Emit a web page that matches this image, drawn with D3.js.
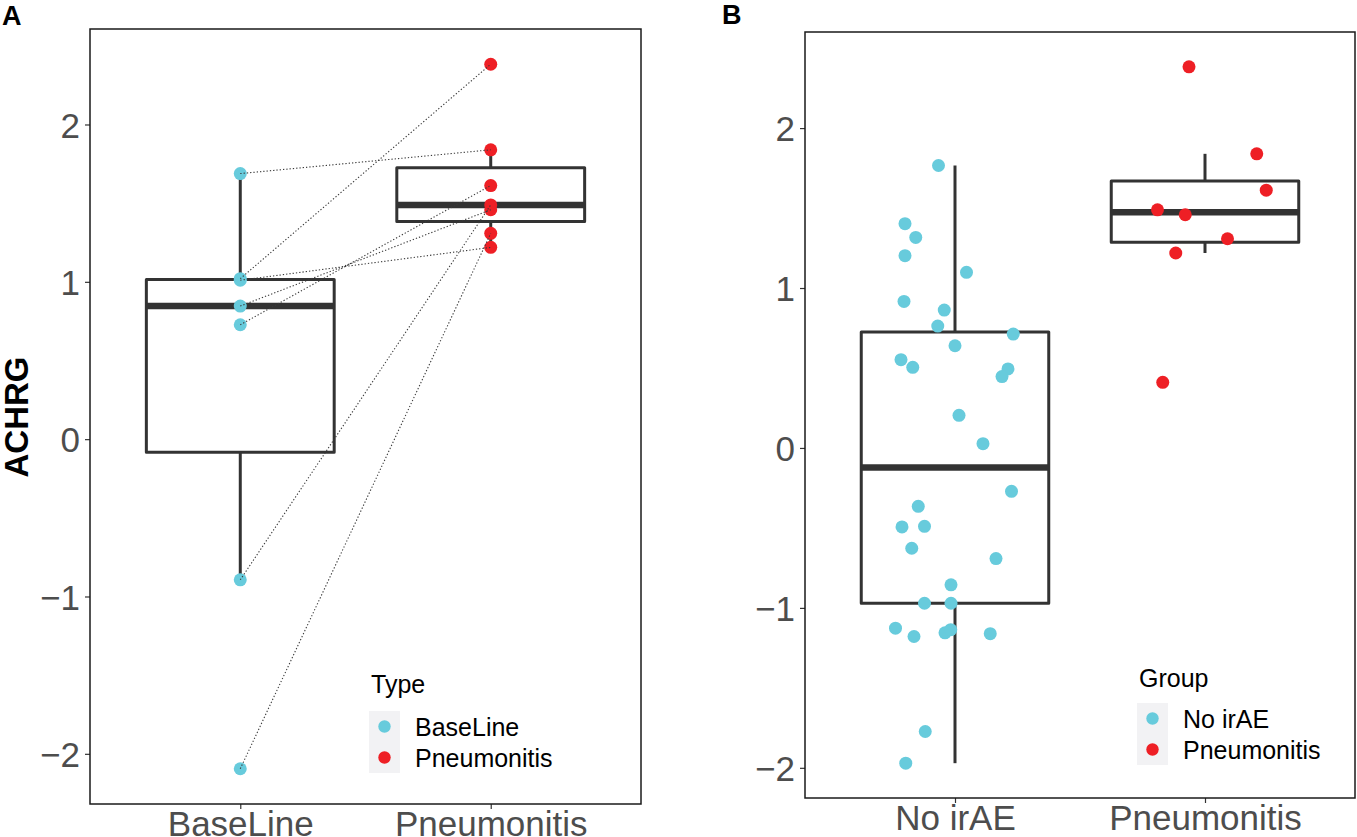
<!DOCTYPE html>
<html>
<head>
<meta charset="utf-8">
<script src="https://cdn.jsdelivr.net/npm/d3@7"></script>
<style>
  html, body { margin: 0; padding: 0; background: #fff; }
  svg { display: block; font-family: "Liberation Sans", Arial, Helvetica, sans-serif; }
</style>
</head>
<body>
<svg id="chart" width="1357" height="837"></svg>
<script>
// ---------------- data ----------------
const categoriesA = ["BaseLine", "Pneumonitis"];
// paired samples (same index = same patient)
const baselineValuesA    = [1.688, 1.02, 1.01, 0.846, 0.727, -0.894, -2.095];
const pneumonitisValuesA = [1.839, 2.383, 1.219, 1.458, 1.612, 1.489, 1.308];

const categoriesB = ["No irAE", "Pneumonitis"];
const noIrAEValuesB = [1.766, 1.402, 1.316, 1.202, 1.098, 0.916, 0.862, 0.762, 0.712, 0.639,
                       0.552, 0.504, 0.494, 0.446, 0.204, 0.027, -0.271, -0.365, -0.494, -0.490,
                       -0.627, -0.692, -0.856, -0.971, -0.971, -1.127, -1.179, -1.156, -1.136, -1.161,
                       -1.773, -1.971];
const noIrAEJitterB = [-0.066, -0.200, -0.157, -0.200, 0.046, -0.204, -0.043, -0.069, 0.233, 0.000,
                       -0.216, -0.169, 0.212, 0.188, 0.016, 0.112, 0.226, -0.147, -0.212, -0.122,
                       -0.173, 0.164, -0.016, -0.122, -0.016, -0.238, -0.164, -0.040, -0.017, 0.141,
                       -0.119, -0.197];
const pneumonitisValuesB = [2.383, 1.839, 1.612, 1.489, 1.458, 1.308, 1.219, 0.410];
const pneumonitisJitterB = [-0.064, 0.207, 0.245, -0.190, -0.079, 0.090, -0.117, -0.169];

const yTickValues = [-2, -1, 0, 1, 2];
const colorBaseLine = "#67CBDC";
const colorPneumonitis = "#EE1F25";

// ---------------- helpers ----------------
const svg = d3.select("#chart");
const INK = "#333333";

function boxStats(values) {
  const s = values.slice().sort(d3.ascending);
  const q1 = d3.quantile(s, 0.25), med = d3.quantile(s, 0.5), q3 = d3.quantile(s, 0.75);
  const iqr = q3 - q1;
  const lo = d3.min(s.filter(v => v >= q1 - 1.5 * iqr));
  const hi = d3.max(s.filter(v => v <= q3 + 1.5 * iqr));
  return { q1, med, q3, lo, hi };
}

function expandedDomain(all) {
  const [mn, mx] = d3.extent(all);
  const pad = (mx - mn) * 0.05;
  return [mn - pad, mx + pad];
}

function makePanel(frame, cats, allValues) {
  const x = d3.scalePoint().domain(cats).range([frame.left, frame.right]).padding(0.6);
  const y = d3.scaleLinear().domain(expandedDomain(allValues)).range([frame.bottom, frame.top]);
  return { x, y };
}

function drawBox(g, x, y, cat, values) {
  const st = boxStats(values);
  const cx = x(cat);
  const hw = x.step() * 0.75 / 2;
  g.append("line").attr("x1", cx).attr("x2", cx).attr("y1", y(st.q3)).attr("y2", y(st.hi))
    .attr("stroke", INK).attr("stroke-width", 3);
  g.append("line").attr("x1", cx).attr("x2", cx).attr("y1", y(st.q1)).attr("y2", y(st.lo))
    .attr("stroke", INK).attr("stroke-width", 3);
  g.append("rect").attr("x", cx - hw).attr("y", y(st.q3))
    .attr("width", 2 * hw).attr("height", y(st.q1) - y(st.q3))
    .attr("fill", "#fff").attr("stroke", INK).attr("stroke-width", 3).attr("stroke-linejoin", "round");
  g.append("line").attr("x1", cx - hw).attr("x2", cx + hw).attr("y1", y(st.med)).attr("y2", y(st.med))
    .attr("stroke", INK).attr("stroke-width", 6.5);
}

function drawAxes(g, frame, x, y) {
  const ya = g.append("g").attr("transform", `translate(${frame.left},0)`)
    .call(d3.axisLeft(y).tickValues(yTickValues).tickSize(5).tickPadding(5)
      .tickFormat(d => d < 0 ? "\u2212" + Math.abs(d) : d));
  const xa = g.append("g").attr("transform", `translate(0,${frame.bottom})`)
    .call(d3.axisBottom(x).tickSize(5).tickPadding(3));
  [ya, xa].forEach(a => {
    a.select(".domain").remove();
    a.selectAll(".tick line").attr("stroke", INK).attr("stroke-width", 1.2);
    a.selectAll(".tick text").attr("fill", "#4D4D4D").style("font-size", "35px")
      .style("font-family", "'Liberation Sans', Arial, sans-serif");
  });
  ya.selectAll(".tick text").attr("dy", "0.36em");
  xa.selectAll(".tick text").attr("dy", "0.69em");
}

function drawFrame(g, frame) {
  g.append("rect").attr("x", frame.left).attr("y", frame.top)
    .attr("width", frame.right - frame.left).attr("height", frame.bottom - frame.top)
    .attr("fill", "none").attr("stroke", "#1a1a1a").attr("stroke-width", 1.5);
}

function drawLegend(g, opt) {
  g.append("text").attr("x", opt.x + 2).attr("y", opt.titleY).text(opt.title)
    .style("font-size", "25px").attr("fill", "#000");
  g.append("rect").attr("x", opt.x).attr("y", opt.keyTop).attr("width", 31).attr("height", opt.keyH * opt.items.length)
    .attr("fill", "#F2F2F4");
  opt.items.forEach((it, i) => {
    const cy = opt.keyTop + opt.keyH * (i + 0.5);
    g.append("circle").attr("cx", opt.x + 15.5).attr("cy", cy).attr("r", 6.2).attr("fill", it.color);
    g.append("text").attr("x", opt.x + 46).attr("y", cy + 9).text(it.label)
      .style("font-size", "25px").attr("fill", "#000");
  });
}

// ---------------- panel A ----------------
const frameA = { left: 90, right: 641, top: 29, bottom: 804 };
const gA = svg.append("g");
const A = makePanel(frameA, categoriesA, baselineValuesA.concat(pneumonitisValuesA));
drawBox(gA, A.x, A.y, categoriesA[0], baselineValuesA);
drawBox(gA, A.x, A.y, categoriesA[1], pneumonitisValuesA);
gA.selectAll("circle.base").data(baselineValuesA).join("circle")
  .attr("cx", A.x(categoriesA[0])).attr("cy", d => A.y(d)).attr("r", 6.5).attr("fill", colorBaseLine);
gA.selectAll("circle.pn").data(pneumonitisValuesA).join("circle")
  .attr("cx", A.x(categoriesA[1])).attr("cy", d => A.y(d)).attr("r", 6.5).attr("fill", colorPneumonitis);
gA.selectAll("line.pair").data(d3.zip(baselineValuesA, pneumonitisValuesA)).join("line")
  .attr("x1", A.x(categoriesA[0])).attr("x2", A.x(categoriesA[1]))
  .attr("y1", d => A.y(d[0])).attr("y2", d => A.y(d[1]))
  .attr("stroke", "#3a3a3a").attr("stroke-width", 1.1).attr("stroke-dasharray", "1.3 2");
drawAxes(gA, frameA, A.x, A.y);
drawFrame(gA, frameA);
drawLegend(gA, { x: 369, titleY: 693, title: "Type", keyTop: 711, keyH: 31,
  items: [{ label: "BaseLine", color: colorBaseLine }, { label: "Pneumonitis", color: colorPneumonitis }] });
gA.append("text").attr("transform", "translate(28,417) rotate(-90)").attr("text-anchor", "middle")
  .text("ACHRG").style("font-size", "33px").style("font-weight", "bold").attr("fill", "#000");
svg.append("text").attr("x", 2).attr("y", 25).text("A").style("font-size", "27px").style("font-weight", "bold");

// ---------------- panel B ----------------
const frameB = { left: 805, right: 1355, top: 32, bottom: 798 };
const gB = svg.append("g");
const B = makePanel(frameB, categoriesB, noIrAEValuesB.concat(pneumonitisValuesB));
drawBox(gB, B.x, B.y, categoriesB[0], noIrAEValuesB);
drawBox(gB, B.x, B.y, categoriesB[1], pneumonitisValuesB);
gB.selectAll("circle.no").data(noIrAEValuesB).join("circle")
  .attr("cx", (d, i) => B.x(categoriesB[0]) + noIrAEJitterB[i] * B.x.step())
  .attr("cy", d => B.y(d)).attr("r", 6.5).attr("fill", colorBaseLine);
gB.selectAll("circle.pn").data(pneumonitisValuesB).join("circle")
  .attr("cx", (d, i) => B.x(categoriesB[1]) + pneumonitisJitterB[i] * B.x.step())
  .attr("cy", d => B.y(d)).attr("r", 6.5).attr("fill", colorPneumonitis);
drawAxes(gB, frameB, B.x, B.y);
drawFrame(gB, frameB);
drawLegend(gB, { x: 1137, titleY: 687, title: "Group", keyTop: 703, keyH: 31,
  items: [{ label: "No irAE", color: colorBaseLine }, { label: "Pneumonitis", color: colorPneumonitis }] });
svg.append("text").attr("x", 722).attr("y", 24).text("B").style("font-size", "27px").style("font-weight", "bold");
</script>
</body>
</html>
